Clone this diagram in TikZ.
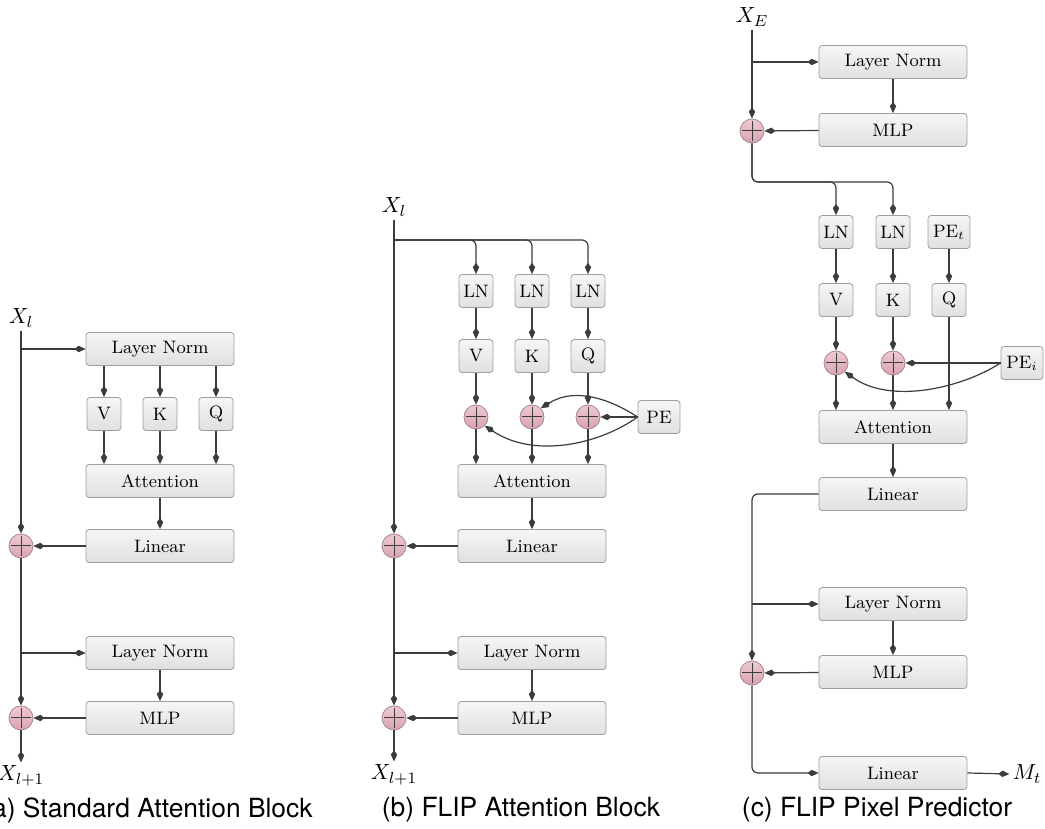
\documentclass[tikz,border=0pt]{standalone}
\usepackage{fontspec}
\newfontfamily\capfont{TeX Gyre Heros}
\usepackage{tikz}
\usetikzlibrary{arrows.meta}

\definecolor{linegray}{HTML}{3C3C3C}
\definecolor{boxborder}{HTML}{9E9E9E}
\definecolor{boxtop}{HTML}{F6F6F6}
\definecolor{boxbot}{HTML}{E0E0E0}
\definecolor{addtop}{HTML}{EECAD2}
\definecolor{addbot}{HTML}{D9A3AF}
\definecolor{addborder}{HTML}{A8848C}

\tikzset{
	wire/.style={draw=linegray, line width=0.6pt},
	block/.style={draw=boxborder, top color=boxtop, bottom color=boxbot, rounded corners=1.5pt,
		minimum width=74pt, minimum height=16.5pt, inner sep=0pt, font=\fontsize{9}{10}\selectfont},
	tok/.style={block, minimum width=17pt},
	pebox/.style={block, minimum width=21pt},
	add/.style={circle, draw=addborder, top color=addtop, bottom color=addbot, minimum size=12pt, inner sep=0pt,
		path picture={\draw[linegray, line width=0.5pt]
			([yshift=-1pt]path picture bounding box.north) -- ([yshift=1pt]path picture bounding box.south)
			([xshift=1pt]path picture bounding box.west) -- ([xshift=-1pt]path picture bounding box.east);}},
	io/.style={inner sep=1.5pt, font=\fontsize{11}{13}\selectfont},
	subcap/.style={font=\capfont\fontsize{13.2}{15}\selectfont}
}

\begin{document}
\begin{tikzpicture}[x=0.5pt, y=0.5pt, >={Kite[length=5.5pt,width=3.2pt,inset=2pt]}]
		\useasboundingbox (0,0) rectangle (1045,829);

		% (a)
		\node[io] (a-in) at (21,511) {$X_l$};
		\node[block] (a-ln1) at (160,480) {Layer Norm};
		\foreach \n/\x/\t in {v/104/V, k/160/K, q/216/Q}
			\node[tok] (a-\n) at (\x,415) {\t};
		\node[block] (a-att) at (160,348) {Attention};
		\node[block] (a-lin) at (160,283) {Linear};
		\node[add] (a-add1) at (21,283) {};
		\node[block] (a-ln2) at (160,176) {Layer Norm};
		\node[block] (a-mlp) at (160,111) {MLP};
		\node[add] (a-add2) at (21,111) {};
		\node[io] (a-out) at (21,53) {$X_{l+1}$};
		\node[subcap] at (148,19) {(a) Standard Attention Block};

		\draw[wire,->] (a-in) -- (a-add1);
		\draw[wire,->] (a-ln1.west -| a-in) -- (a-ln1.west);
		\foreach \n in {v,k,q}{
			\draw[wire,->] (a-\n |- a-ln1.south) -- (a-\n);
			\draw[wire,->] (a-\n) -- (a-\n |- a-att.north);
		}
		\draw[wire,->] (a-att) -- (a-lin);
		\draw[wire,->] (a-lin) -- (a-add1);
		\draw[wire,->] (a-add1) -- (a-add2);
		\draw[wire,->] (a-ln2.west -| a-in) -- (a-ln2.west);
		\draw[wire,->] (a-ln2) -- (a-mlp);
		\draw[wire,->] (a-mlp) -- (a-add2);
		\draw[wire,->] (a-add2) -- (a-out);

		% (b)
		\node[io] (b-in) at (394,622) {$X_l$};
		\coordinate (b-bus) at (394,589);
		\foreach \n/\x/\t in {v/476/V, k/532/K, q/588/Q}{
			\node[tok] (b-ln\n) at (\x,538) {LN};
			\node[tok] (b-\n) at (\x,473) {\t};
			\node[add] (b-add\n) at (\x,412) {};
		}
		\node[pebox] (b-pe) at (659,412) {PE};
		\node[block] (b-att) at (532,348) {Attention};
		\node[block] (b-lin) at (532,283) {Linear};
		\node[add] (b-add1) at (394,283) {};
		\node[block] (b-ln2) at (532,176) {Layer Norm};
		\node[block] (b-mlp) at (532,111) {MLP};
		\node[add] (b-add2) at (394,111) {};
		\node[io] (b-out) at (394,54) {$X_{l+1}$};
		\node[subcap] at (521,19) {(b) FLIP Attention Block};

		\draw[wire,->] (b-in) -- (b-add1);
		\foreach \n in {v,k,q}{
			\draw[wire,->,rounded corners=3pt] (b-bus) -| (b-ln\n.north);
			\draw[wire,->] (b-ln\n) -- (b-\n);
			\draw[wire,->] (b-\n) -- (b-add\n);
			\draw[wire,->] (b-add\n) -- (b-add\n |- b-att.north);
		}
		\draw[wire,->] (b-pe.west) -- (b-addq.east);
		\draw[wire,->] (b-pe.west) .. controls (610,430) and (575,442) .. (b-addk.north east);
		\draw[wire,->] (b-pe.west) .. controls (600,385) and (535,370) .. (b-addv.south east);
		\draw[wire,->] (b-att) -- (b-lin);
		\draw[wire,->] (b-lin) -- (b-add1);
		\draw[wire,->] (b-add1) -- (b-add2);
		\draw[wire,->] (b-ln2.west -| b-in) -- (b-ln2.west);
		\draw[wire,->] (b-ln2) -- (b-mlp);
		\draw[wire,->] (b-mlp) -- (b-add2);
		\draw[wire,->] (b-add2) -- (b-out);

		% (c)
		\node[io] (c-in) at (752,812) {$X_E$};
		\node[block] (c-ln0) at (893,767) {Layer Norm};
		\node[block] (c-mlp0) at (893,699) {MLP};
		\node[add] (c-add0) at (752,698) {};
		\coordinate (c-bus) at (752,647);
		\node[tok] (c-lnv) at (836,597) {LN};
		\node[tok] (c-lnk) at (893,597) {LN};
		\node[pebox] (c-pet) at (949,597) {PE$_t$};
		\foreach \n/\x/\t in {v/836/V, k/893/K, q/949/Q}
			\node[tok] (c-\n) at (\x,529) {\t};
		\node[add] (c-addv) at (836,466) {};
		\node[add] (c-addk) at (893,466) {};
		\node[pebox] (c-pei) at (1022,466) {PE$_i$};
		\node[block] (c-att) at (893,402) {Attention};
		\node[block] (c-lin) at (893,335) {Linear};
		\node[block] (c-ln2) at (893,225) {Layer Norm};
		\node[block] (c-mlp2) at (893,157) {MLP};
		\node[add] (c-add2) at (752,156) {};
		\node[block] (c-out) at (893,56) {Linear};
		\node[io] (c-mt) at (1027,55) {$M_t$};
		\node[subcap] at (877,19) {(c) FLIP Pixel Predictor};

		\draw[wire,->] (c-in) -- (c-add0);
		\draw[wire,->] (c-ln0.west -| c-in) -- (c-ln0.west);
		\draw[wire,->] (c-ln0) -- (c-mlp0);
		\draw[wire,->] (c-mlp0) -- (c-add0);
		\draw[wire,->,rounded corners=3pt] (c-add0) -- (c-bus) -| (c-lnv.north);
		\draw[wire,->,rounded corners=3pt] (c-add0) -- (c-bus) -| (c-lnk.north);
		\draw[wire,->] (c-lnv) -- (c-v);
		\draw[wire,->] (c-lnk) -- (c-k);
		\draw[wire,->] (c-pet) -- (c-q);
		\draw[wire,->] (c-v) -- (c-addv);
		\draw[wire,->] (c-k) -- (c-addk);
		\draw[wire,->] (c-addv) -- (c-addv |- c-att.north);
		\draw[wire,->] (c-addk) -- (c-addk |- c-att.north);
		\draw[wire,->] (c-q) -- (c-q |- c-att.north);
		\draw[wire,->] (c-pei.west) -- (c-addk.east);
		\draw[wire,->] (c-pei.west) .. controls (960,440) and (890,425) .. (c-addv.south east);
		\draw[wire,->] (c-att) -- (c-lin);
		\draw[wire,->,rounded corners=3pt] (c-lin.west) -| (c-add2.north);
		\draw[wire,->] (c-ln2.west -| c-add2) -- (c-ln2.west);
		\draw[wire,->] (c-ln2) -- (c-mlp2);
		\draw[wire,->] (c-mlp2) -- (c-add2);
		\draw[wire,->,rounded corners=3pt] (c-add2) |- (c-out.west);
		\draw[wire,->] (c-out.east) -- (c-mt.west);
\end{tikzpicture}
\end{document}
